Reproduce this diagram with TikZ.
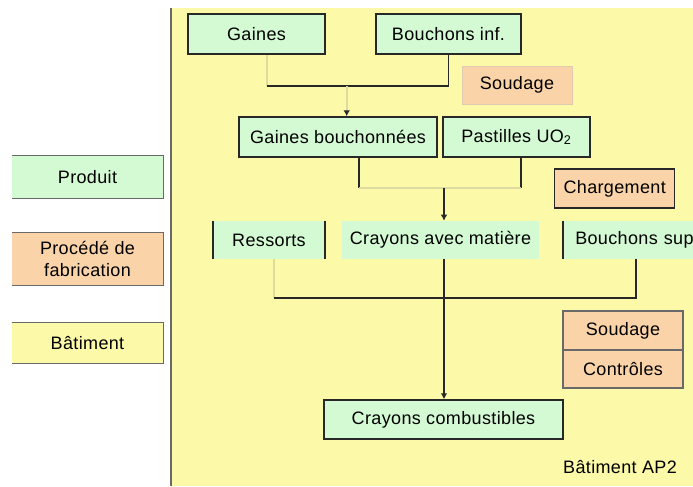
\documentclass[tikz,border=0pt]{standalone}
\usepackage{fontspec}
\setmainfont{Liberation Sans}[LetterSpace=2]
\usepackage{xcolor}
\usepackage{tikz}
\usetikzlibrary{calc}
\usetikzlibrary{arrows.meta}
\definecolor{fondjaune}{RGB}{252,250,168}
\definecolor{vertprod}{RGB}{212,250,212}
\definecolor{saumon}{RGB}{250,212,168}
\definecolor{traitfonce}{RGB}{40,40,40}
\definecolor{traitpale}{RGB}{222,219,160}
\definecolor{bordgris}{RGB}{105,105,105}
\tikzstyle{every node}=[font=\fontsize{13.5}{16}\selectfont, inner sep=0pt]
\tikzstyle{produit}=[fill=vertprod, draw=traitfonce, line width=1.1pt]
\tikzstyle{procede}=[fill=saumon, draw=traitfonce, line width=1.1pt]
\tikzstyle{fonce}=[draw=traitfonce, line width=1.3pt]
\tikzstyle{pale}=[draw=traitpale, line width=1.3pt]
\tikzstyle{fleche}=[-{Latex[length=4.5pt,width=5pt,color=traitfonce]}]

\begin{document}
\begin{tikzpicture}[x=0.75pt, y=-0.75pt]
                \useasboundingbox (0, 0) rectangle (693, 486);
                \clip (0, 0) rectangle (693, 486);

                % batiment
                \fill [fondjaune] (171, 8) rectangle (693, 486);
                \draw [bordgris, line width=1.6pt] (171, 8) -- (171, 486);

                % legende
                \node [fill=vertprod, minimum width=113.25pt, minimum height=31.5pt] (lprod) at (87.5, 177) {Produit};
                \node [fill=saumon, minimum width=113.25pt, minimum height=39pt, align=center] (lproc) at (87.5, 259) {Procédé de\\fabrication};
                \node [fill=fondjaune, minimum width=113.25pt, minimum height=30pt] (lbat) at (87.5, 343) {Bâtiment};
                \foreach \n in {lprod, lproc, lbat}
                    \draw [bordgris, line width=1pt] (\n.north west) -| (\n.south east) -- (\n.south west);

                % produits et procedes
                \node [produit, minimum width=102.75pt, minimum height=30pt] (gaines) at (256.5, 34) {Gaines};
                \node [produit, minimum width=108.75pt, minimum height=30pt] (bouchinf) at (448.5, 34) {Bouchons inf.};
                \node [fill=saumon, draw=saumon!85!black!70, minimum width=82.5pt, minimum height=28.5pt] (soudage) at (517, 85) {Soudage};
                \node [produit, minimum width=148.5pt, minimum height=30pt] (gainesb) at (338, 137) {Gaines bouchonnées};
                \node [produit, minimum width=110.25pt, minimum height=30pt] (pastilles) at (516.5, 137) {Pastilles UO\textsubscript{2}};
                \node [procede, minimum width=90pt, minimum height=29.25pt] (charg) at (614.7, 188.5) {Chargement};
                \node [fill=vertprod, minimum width=84pt, minimum height=28.5pt] (ressorts) at (269, 240) {Ressorts};
                \draw [fonce] (ressorts.north west) -- (ressorts.south west) (ressorts.north east) -- (ressorts.south east);
                \node [fill=vertprod, minimum width=147.75pt, minimum height=28.5pt] (crayonsm) at (440.5, 240) {Crayons avec matière};
                \node [fill=vertprod, anchor=west, text width=110pt, align=left, inner xsep=9pt, minimum height=28.5pt] (bouchsup) at (563, 240) {Bouchons sup};
                \draw [fonce] (bouchsup.north west) -- (bouchsup.south west);
                \node [procede, draw=bordgris, minimum width=90pt, minimum height=29.25pt] (soudage2) at (623, 330.5) {Soudage};
                \node [procede, draw=bordgris, minimum width=90pt, minimum height=28.5pt] (controles) at (623, 369) {Contrôles};
                \node [produit, minimum width=179.25pt, minimum height=29.25pt] (crayonsc) at (443.5, 419.5) {Crayons combustibles};
                \node (batap) at (620, 467) {Bâtiment AP2};

                % liaisons
                \coordinate (j1) at (266.7, 86);
                \coordinate (j2) at (448.5, 86);
                \coordinate (j3) at (346.7, 86);
                \draw [pale] (gaines.south -| j1) -- (j1);
                \draw [fonce] (j1) -- (j2) -- (bouchinf.south);
                \draw [pale, fleche] (j3) -- (j3 |- gainesb.north);

                \coordinate (k1) at (359, 188);
                \coordinate (k2) at (520.7, 188);
                \coordinate (k3) at (444, 188);
                \draw [fonce] (gainesb.south -| k1) -- (k1);
                \draw [fonce] (pastilles.south -| k2) -- (k2);
                \draw [pale] (k1) -- (k2);
                \draw [fonce, fleche] (k3) -- (k3 |- crayonsm.north);

                \coordinate (m1) at (274, 298);
                \coordinate (m2) at (636, 298);
                \coordinate (m3) at (444, 298);
                \draw [pale] (ressorts.south -| m1) -- (m1);
                \draw [fonce] (m1) -- (m2) -- (bouchsup.south -| m2);
                \draw [fonce, fleche] (crayonsm.south -| m3) -- (m3 |- crayonsc.north);
            \end{tikzpicture}
\end{document}
